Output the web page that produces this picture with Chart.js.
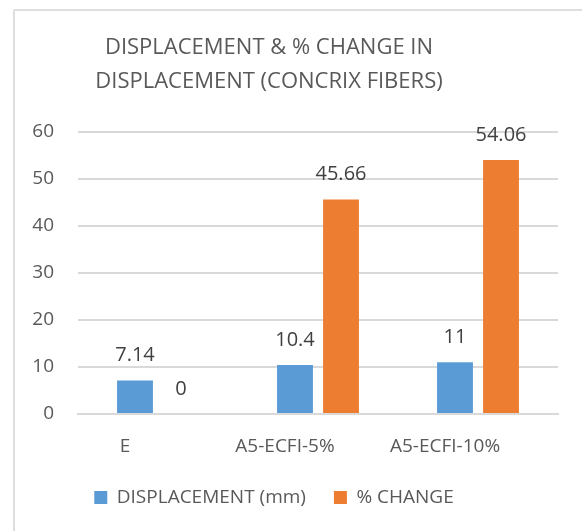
<!DOCTYPE html>
<html>
<head>
<meta charset="utf-8">
<script src="https://cdn.jsdelivr.net/npm/chart.js@4"></script>
<style>
  html, body { margin: 0; padding: 0; background: #fff; }
  #wrap { position: relative; width: 582px; height: 531px; }
  #frame { position: absolute; left: 13px; top: 9px; right: -10px; bottom: -10px; border: 2px solid #dedede; border-radius: 2px; }
  canvas { position: absolute; left: 0; top: 0; }
</style>
</head>
<body>
<div id="wrap">
  <div id="frame"></div>
  <canvas id="chart" width="582" height="531"></canvas>
</div>
<script>
const categories = ['E', 'A5-ECFI-5%', 'A5-ECFI-10%'];
const displacement = [7.14, 10.4, 11];
const pctChange = [0, 45.66, 54.06];
const seriesNames = ['DISPLACEMENT (mm)', '% CHANGE'];
const titleLines = ['DISPLACEMENT & % CHANGE IN', 'DISPLACEMENT (CONCRIX FIBERS)'];
const yTicks = [0, 10, 20, 30, 40, 50, 60];

const FONT = "'Open Sans', sans-serif";
const GREY = '#595959';

// value labels drawn above each bar
const barLabels = {
  id: 'barLabels',
  afterDatasetsDraw(chart) {
    const ctx = chart.ctx;
    ctx.save();
    ctx.font = `20px ${FONT}`;
    ctx.fillStyle = '#404040';
    ctx.textAlign = 'center';
    ctx.textBaseline = 'middle';
    chart.data.datasets.forEach((ds, i) => {
      chart.getDatasetMeta(i).data.forEach((bar, j) => {
        ctx.fillText(String(ds.data[j]), bar.x, bar.y - 25);
      });
    });
    ctx.restore();
  }
};

// title and legend are centred on the frame, not the canvas
const shiftBoxes = {
  id: 'shiftBoxes',
  afterLayout(chart) {
    const t = chart.titleBlock, l = chart.legend;
    if (t) { t.left -= 10; t.right -= 10; }
    if (l) { l.left -= 5; l.right -= 5; }
  }
};

new Chart(document.getElementById('chart'), {
  type: 'bar',
  data: {
    labels: categories,
    datasets: [
      { label: seriesNames[0], data: displacement, backgroundColor: '#5B9BD5' },
      { label: seriesNames[1], data: pctChange, backgroundColor: '#ED7D31' }
    ]
  },
  options: {
    responsive: false,
    animation: false,
    devicePixelRatio: 1,
    categoryPercentage: 0.575,
    barPercentage: 0.78,
    layout: { padding: { left: 0, right: 24, top: 0, bottom: 14 } },
    plugins: {
      title: {
        display: true,
        text: titleLines,
        color: GREY,
        font: { family: FONT, size: 22, weight: 'normal', lineHeight: 1.545 },
        padding: { top: 31, bottom: 33 }
      },
      legend: {
        display: true,
        position: 'bottom',
        labels: {
          color: GREY,
          font: { family: FONT, size: 19 },
          boxWidth: 13,
          boxHeight: 13,
          padding: 28
        }
      },
      tooltip: { enabled: false }
    },
    scales: {
      x: {
        grid: { display: false, drawTicks: false },
        border: { color: '#d9d9d9', width: 2 },
        ticks: { color: GREY, font: { family: FONT, size: 19 }, padding: 21, labelOffset: -33 },
        afterFit: s => { s.height = 46; }
      },
      y: {
        min: 0,
        max: 60,
        afterBuildTicks: s => { s.ticks = yTicks.map(v => ({ value: v })); },
        grid: { color: '#d9d9d9', lineWidth: 2, drawTicks: false },
        border: { display: false },
        ticks: { color: GREY, font: { family: FONT, size: 19 }, padding: 24 },
        afterFit: s => { s.width = 78; }
      }
    }
  },
  plugins: [barLabels, shiftBoxes]
});
</script>
</body>
</html>
